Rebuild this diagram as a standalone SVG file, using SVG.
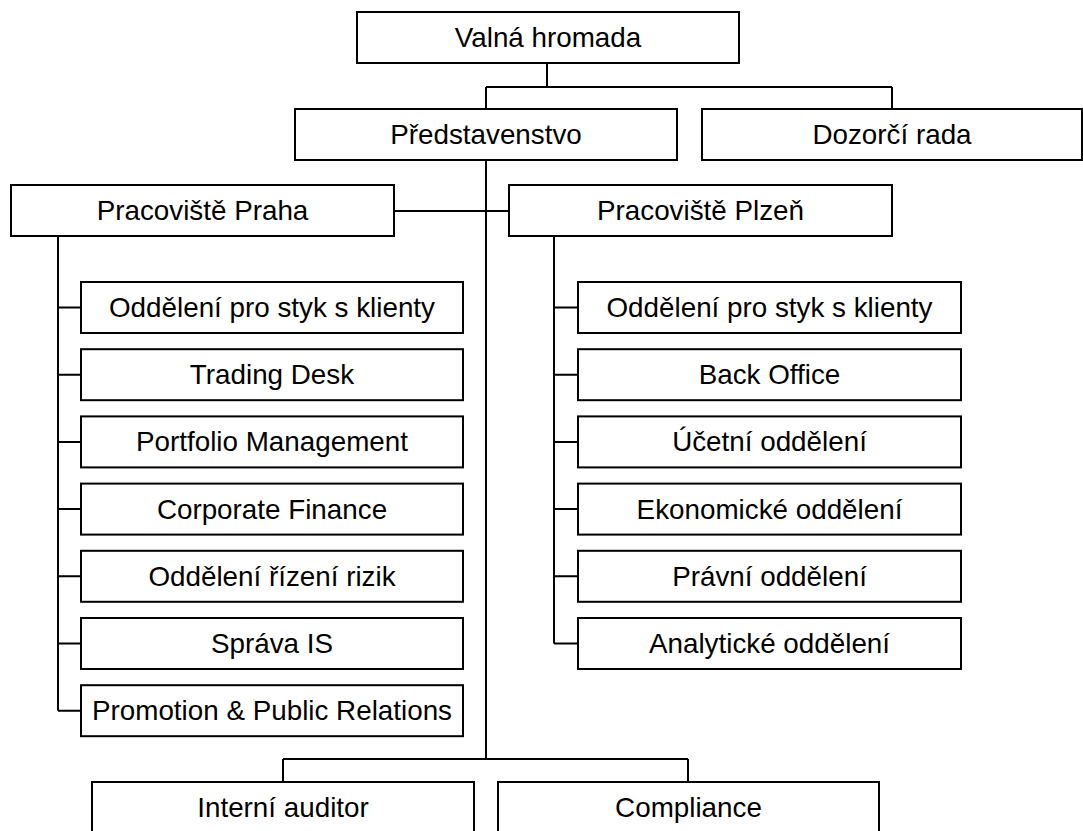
<svg xmlns="http://www.w3.org/2000/svg" width="1083" height="831" viewBox="0 0 1083 831">
<style>
.box{fill:#fff;stroke:#000;stroke-width:2}
.lbl{font-family:"Liberation Sans",Arial,sans-serif;font-size:27.8px;fill:#000;text-anchor:middle}
.conn{fill:none;stroke:#000;stroke-width:2}
</style>
<rect width="1083" height="831" fill="#fff"/>
<g id="connectors">
<path class="conn" d="M547,63 V87 M486,87 H892 M486,87 V109 M892,87 V109"/>
<path class="conn" d="M486,160 V759 M283,759 H688 M283,759 V782 M688,759 V782"/>
<path class="conn" d="M394,211 H509"/>
<path class="conn" d="M58,236 V710.7 M58,307.5 H81 M58,374.7 H81 M58,441.9 H81 M58,509.1 H81 M58,576.3 H81 M58,643.5 H81 M58,710.7 H81"/>
<path class="conn" d="M554,236 V643.5 M554,307.5 H578 M554,374.7 H578 M554,441.9 H578 M554,509.1 H578 M554,576.3 H578 M554,643.5 H578"/>
</g>
<g id="valna-hromada"><rect class="box" x="357" y="12" width="382" height="51"/><text class="lbl" x="548" y="47">Valná hromada</text></g>
<g id="predstavenstvo"><rect class="box" x="295" y="109" width="382" height="51"/><text class="lbl" x="486" y="144">Představenstvo</text></g>
<g id="dozorci-rada"><rect class="box" x="702" y="109" width="380" height="51"/><text class="lbl" x="892" y="144">Dozorčí rada</text></g>
<g id="pracoviste-praha"><rect class="box" x="11" y="185" width="383" height="51"/><text class="lbl" x="202.5" y="220">Pracoviště Praha</text></g>
<g id="pracoviste-plzen"><rect class="box" x="509" y="185" width="383" height="51"/><text class="lbl" x="700.5" y="220">Pracoviště Plzeň</text></g>
<g id="praha-klienti"><rect class="box" x="81" y="282" width="382" height="51"/><text class="lbl" x="272" y="317">Oddělení pro styk s klienty</text></g>
<g id="trading-desk"><rect class="box" x="81" y="349.2" width="382" height="51"/><text class="lbl" x="272" y="384.2">Trading Desk</text></g>
<g id="portfolio-management"><rect class="box" x="81" y="416.4" width="382" height="51"/><text class="lbl" x="272" y="451.4">Portfolio Management</text></g>
<g id="corporate-finance"><rect class="box" x="81" y="483.6" width="382" height="51"/><text class="lbl" x="272" y="518.6">Corporate Finance</text></g>
<g id="rizeni-rizik"><rect class="box" x="81" y="550.8" width="382" height="51"/><text class="lbl" x="272" y="585.8">Oddělení řízení rizik</text></g>
<g id="sprava-is"><rect class="box" x="81" y="618" width="382" height="51"/><text class="lbl" x="272" y="653">Správa IS</text></g>
<g id="promotion-pr"><rect class="box" x="81" y="685.2" width="382" height="51"/><text class="lbl" x="272" y="720.2">Promotion &amp; Public Relations</text></g>
<g id="plzen-klienti"><rect class="box" x="578" y="282" width="383" height="51"/><text class="lbl" x="769.5" y="317">Oddělení pro styk s klienty</text></g>
<g id="back-office"><rect class="box" x="578" y="349.2" width="383" height="51"/><text class="lbl" x="769.5" y="384.2">Back Office</text></g>
<g id="ucetni-oddeleni"><rect class="box" x="578" y="416.4" width="383" height="51"/><text class="lbl" x="769.5" y="451.4">Účetní oddělení</text></g>
<g id="ekonomicke-oddeleni"><rect class="box" x="578" y="483.6" width="383" height="51"/><text class="lbl" x="769.5" y="518.6">Ekonomické oddělení</text></g>
<g id="pravni-oddeleni"><rect class="box" x="578" y="550.8" width="383" height="51"/><text class="lbl" x="769.5" y="585.8">Právní oddělení</text></g>
<g id="analyticke-oddeleni"><rect class="box" x="578" y="618" width="383" height="51"/><text class="lbl" x="769.5" y="653">Analytické oddělení</text></g>
<g id="interni-auditor"><rect class="box" x="92" y="782" width="382" height="51"/><text class="lbl" x="283" y="817">Interní auditor</text></g>
<g id="compliance"><rect class="box" x="498" y="782" width="381" height="51"/><text class="lbl" x="688.5" y="817">Compliance</text></g>
</svg>
